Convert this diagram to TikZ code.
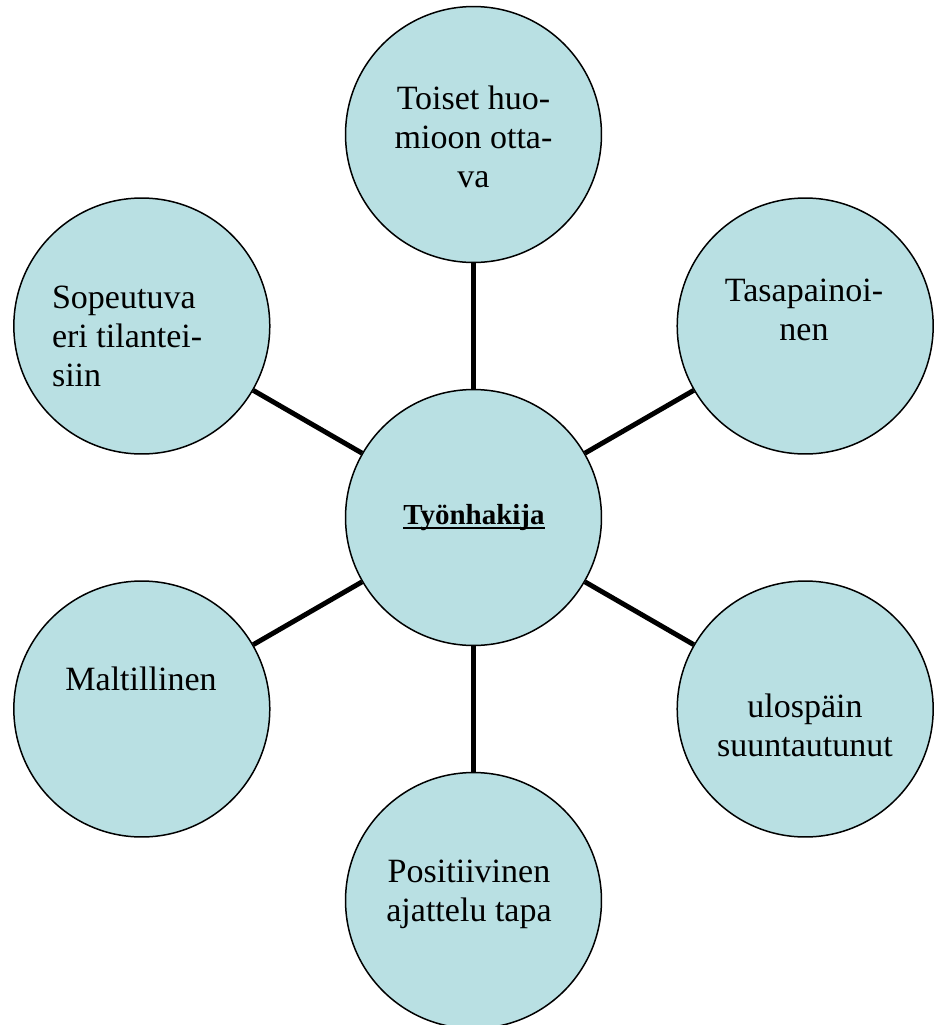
\documentclass[tikz,border=0pt]{standalone}
\usepackage{fontspec}
\setmainfont{Liberation Serif}
\usepackage{tikz}
\usetikzlibrary{calc}
\definecolor{bubblefill}{RGB}{185,224,227}
\newcommand{\bubblefont}{\fontsize{19.36pt}{22.2pt}\selectfont}
\newcommand{\hubfont}{\fontsize{16.5pt}{19pt}\selectfont\bfseries}

\begin{document}
\begin{tikzpicture}[x=0.02cm,y=-0.02cm,
        bubble/.style={circle,draw=black,line width=0.85pt,fill=bubblefill,minimum size=5.12cm,inner sep=0pt},
        spoke/.style={line width=2.8pt},
        lbl/.style={inner sep=0pt,font=\bubblefont,align=center}]
    \useasboundingbox (0,0) rectangle (939,1025);
    %circles and spokes
    \node[bubble] (hub) at (473.5,517.5) {};
    \foreach \nm/\px/\py in {top/473.5/134.5, tr/805.2/326, br/805.2/709, bot/473.5/900.5, bl/141.8/709, tl/141.8/326} {
        \node[bubble] (\nm) at (\px,\py) {};
        \draw[spoke] (hub) -- (\nm);}
    %texts
    \node[inner sep=0pt,font=\hubfont,anchor=base] (hubtxt) at (474,524) {Työnhakija};
    \draw[line width=1.1pt] ($(hubtxt.base west)+(0,4)$) -- ($(hubtxt.base east)+(0,4)$);
    \node[lbl] (toptxt) at (473.5,137.3) {Toiset huo-\\mioon otta-\\va};
    \node[lbl] (trtxt) at (804,310) {Tasapainoi-\\nen};
    \node[lbl] (brtxt) at (805,725.8) {ulospäin\\suuntautunut};
    \node[lbl] (bottxt) at (469,894.8) {Positiivinen\\ajattelu tapa};
    \node[lbl,anchor=base] (bltxt) at (141,690.7) {Maltillinen};
    \node[lbl,align=left,anchor=west] (tltxt) at (51.7,336.2) {Sopeutuva\\eri tilantei-\\siin};
\end{tikzpicture}
\end{document}
